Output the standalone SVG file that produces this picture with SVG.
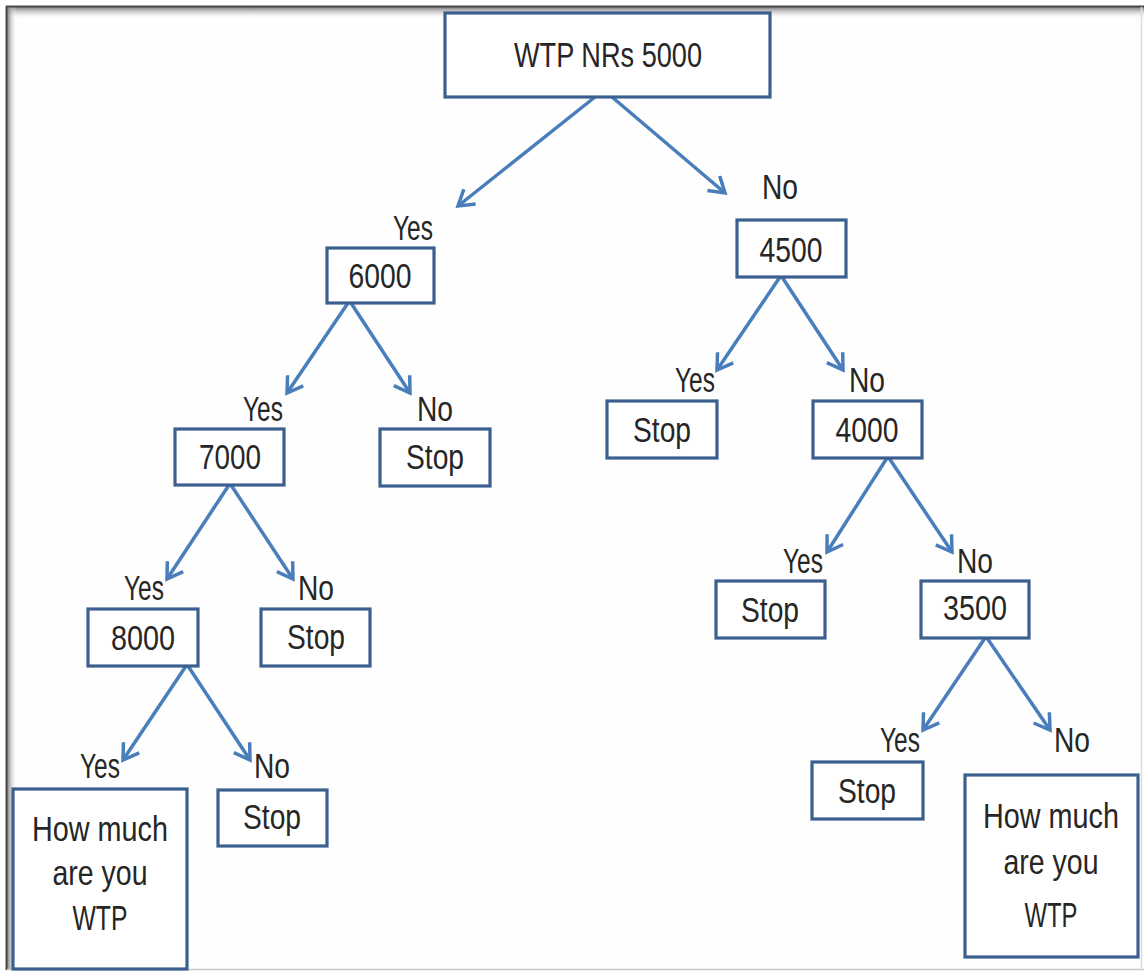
<svg xmlns="http://www.w3.org/2000/svg" width="1144" height="972" viewBox="0 0 1144 972">
<style>
.box{fill:#ffffff;stroke:#3b6090;stroke-width:3.2}
.t{font-family:"Liberation Sans",Arial,sans-serif;font-size:35px;fill:#262626;text-anchor:middle}
.c{stroke:#4a7ebb;stroke-width:3.5;fill:none;marker-end:url(#ah)}
</style>
<defs>
<marker id="ah" viewBox="0 0 22 22" refX="19" refY="11" markerWidth="22" markerHeight="22" markerUnits="userSpaceOnUse" orient="auto">
<path d="M4,1.5 L19,11 L4,20.5" fill="none" stroke="#4a7ebb" stroke-width="3.5"/>
</marker>
<linearGradient id="gt" x1="0" y1="0" x2="0" y2="1">
<stop offset="0" stop-color="#7a7a7a"/><stop offset="1" stop-color="#ffffff" stop-opacity="0"/>
</linearGradient>
<linearGradient id="gl" x1="0" y1="0" x2="1" y2="0">
<stop offset="0" stop-color="#7a7a7a"/><stop offset="1" stop-color="#ffffff" stop-opacity="0"/>
</linearGradient>
</defs>
<rect x="0" y="0" width="1144" height="972" fill="#ffffff"/>
<g id="frame">
<rect x="7" y="7" width="1137" height="962" fill="#fefefe"/>
<rect x="7" y="7" width="1137" height="12" fill="url(#gt)"/>
<rect x="7" y="7" width="10" height="962" fill="url(#gl)"/>
<line x1="6" y1="6.5" x2="1144" y2="6.5" stroke="#4a4a4a" stroke-width="2"/>
<line x1="6.5" y1="6" x2="6.5" y2="970" stroke="#4a4a4a" stroke-width="2"/>
<line x1="7" y1="969.5" x2="1144" y2="969.5" stroke="#c8c8c8" stroke-width="1.5"/>
<line x1="1141.5" y1="7" x2="1141.5" y2="970" stroke="#dcdcdc" stroke-width="1.5"/>
</g>
<g id="connectors">
<line class="c" x1="595" y1="97" x2="458" y2="206"/>
<line class="c" x1="612" y1="97" x2="725" y2="193"/>
<line class="c" x1="348" y1="303" x2="287" y2="393"/>
<line class="c" x1="351" y1="303" x2="410" y2="393"/>
<line class="c" x1="229" y1="485" x2="167" y2="579"/>
<line class="c" x1="231" y1="485" x2="293" y2="579"/>
<line class="c" x1="186" y1="666" x2="123" y2="760"/>
<line class="c" x1="188" y1="666" x2="250" y2="760"/>
<line class="c" x1="780" y1="277" x2="717" y2="370"/>
<line class="c" x1="782" y1="277" x2="843" y2="370"/>
<line class="c" x1="887" y1="458" x2="827" y2="552"/>
<line class="c" x1="889" y1="458" x2="952" y2="552"/>
<line class="c" x1="985" y1="638" x2="923" y2="730"/>
<line class="c" x1="987" y1="638" x2="1050" y2="730"/>
</g>
<g id="labels">
<text class="t" x="413" y="240" textLength="40" lengthAdjust="spacingAndGlyphs">Yes</text>
<text class="t" x="780" y="199" textLength="36" lengthAdjust="spacingAndGlyphs">No</text>
<text class="t" x="263" y="421" textLength="40" lengthAdjust="spacingAndGlyphs">Yes</text>
<text class="t" x="435" y="421" textLength="36" lengthAdjust="spacingAndGlyphs">No</text>
<text class="t" x="144" y="600" textLength="40" lengthAdjust="spacingAndGlyphs">Yes</text>
<text class="t" x="316" y="600" textLength="36" lengthAdjust="spacingAndGlyphs">No</text>
<text class="t" x="100" y="778" textLength="40" lengthAdjust="spacingAndGlyphs">Yes</text>
<text class="t" x="272" y="778" textLength="36" lengthAdjust="spacingAndGlyphs">No</text>
<text class="t" x="695" y="392" textLength="40" lengthAdjust="spacingAndGlyphs">Yes</text>
<text class="t" x="867" y="392" textLength="36" lengthAdjust="spacingAndGlyphs">No</text>
<text class="t" x="803" y="573" textLength="40" lengthAdjust="spacingAndGlyphs">Yes</text>
<text class="t" x="975" y="573" textLength="36" lengthAdjust="spacingAndGlyphs">No</text>
<text class="t" x="900" y="752" textLength="40" lengthAdjust="spacingAndGlyphs">Yes</text>
<text class="t" x="1072" y="752" textLength="36" lengthAdjust="spacingAndGlyphs">No</text>
</g>
<g id="root">
<rect class="box" x="445" y="13" width="325" height="84"/>
<text class="t" x="608" y="67" textLength="188" lengthAdjust="spacingAndGlyphs">WTP NRs 5000</text>
</g>
<g id="n6000">
<rect class="box" x="327" y="248" width="107" height="55"/>
<text class="t" x="380" y="288" textLength="63" lengthAdjust="spacingAndGlyphs">6000</text>
</g>
<g id="n4500">
<rect class="box" x="737" y="220" width="109" height="57"/>
<text class="t" x="791" y="262" textLength="63" lengthAdjust="spacingAndGlyphs">4500</text>
</g>
<g id="n7000">
<rect class="box" x="175" y="429" width="109" height="56"/>
<text class="t" x="230" y="469" textLength="62" lengthAdjust="spacingAndGlyphs">7000</text>
</g>
<g id="stop6000">
<rect class="box" x="380" y="429" width="110" height="57"/>
<text class="t" x="435" y="469" textLength="58" lengthAdjust="spacingAndGlyphs">Stop</text>
</g>
<g id="n8000">
<rect class="box" x="88" y="609" width="110" height="57"/>
<text class="t" x="143" y="650" textLength="64" lengthAdjust="spacingAndGlyphs">8000</text>
</g>
<g id="stop7000">
<rect class="box" x="261" y="609" width="109" height="57"/>
<text class="t" x="316" y="649" textLength="58" lengthAdjust="spacingAndGlyphs">Stop</text>
</g>
<g id="wtpLeft">
<rect class="box" x="13" y="789" width="174" height="180"/>
<text class="t" x="100" y="841" textLength="136" lengthAdjust="spacingAndGlyphs">How much</text>
<text class="t" x="100" y="885" textLength="95" lengthAdjust="spacingAndGlyphs">are you</text>
<text class="t" x="100" y="930" textLength="55" lengthAdjust="spacingAndGlyphs">WTP</text>
</g>
<g id="stop8000">
<rect class="box" x="218" y="790" width="109" height="56"/>
<text class="t" x="272" y="829" textLength="58" lengthAdjust="spacingAndGlyphs">Stop</text>
</g>
<g id="stop4500">
<rect class="box" x="607" y="401" width="110" height="57"/>
<text class="t" x="662" y="442" textLength="58" lengthAdjust="spacingAndGlyphs">Stop</text>
</g>
<g id="n4000">
<rect class="box" x="813" y="401" width="109" height="57"/>
<text class="t" x="867" y="442" textLength="63" lengthAdjust="spacingAndGlyphs">4000</text>
</g>
<g id="stop4000">
<rect class="box" x="716" y="581" width="109" height="57"/>
<text class="t" x="770" y="622" textLength="58" lengthAdjust="spacingAndGlyphs">Stop</text>
</g>
<g id="n3500">
<rect class="box" x="921" y="581" width="108" height="57"/>
<text class="t" x="975" y="620" textLength="64" lengthAdjust="spacingAndGlyphs">3500</text>
</g>
<g id="stop3500">
<rect class="box" x="812" y="762" width="111" height="57"/>
<text class="t" x="867" y="803" textLength="58" lengthAdjust="spacingAndGlyphs">Stop</text>
</g>
<g id="wtpRight">
<rect class="box" x="965" y="775" width="173" height="182"/>
<text class="t" x="1051" y="828" textLength="136" lengthAdjust="spacingAndGlyphs">How much</text>
<text class="t" x="1051" y="874" textLength="95" lengthAdjust="spacingAndGlyphs">are you</text>
<text class="t" x="1051" y="927" textLength="53" lengthAdjust="spacingAndGlyphs">WTP</text>
</g>
</svg>
